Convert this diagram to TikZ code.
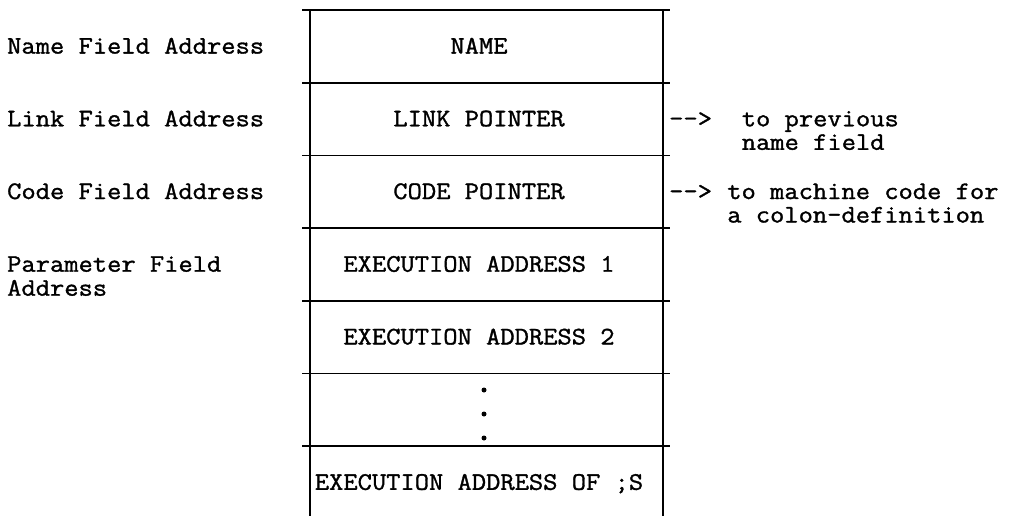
\documentclass[tikz,border=0pt]{standalone}
\usepackage{fontspec}
\setmonofont{Latin Modern Mono}[RawFeature={embolden=1.3;extend=1.1}]
\begin{document}
\begin{tikzpicture}[x=1pt,y=-1pt,
  font=\ttfamily\fontsize{25.2}{24}\selectfont,
  lbl/.style={anchor=base west, inner sep=0},
  celltext/.style={anchor=base, inner sep=0},
  rule/.style={line width=1.8pt},
  dotmark/.style={circle, fill=black, inner sep=0, minimum size=5pt}]
\useasboundingbox (0,0) rectangle (1009,516);
% box frame
\foreach \y in {10,82.7,155.4,228.1,300.8,373.5,446.2}
  \draw[rule] (302,\y) -- (670,\y);
\draw[rule] (310,10) -- (310,516);
\draw[rule] (663,10) -- (663,516);
% cell texts
\node[celltext] (c1) at (479,53.6) {NAME};
\node[celltext] (c2) at (479,126.3) {LINK POINTER};
\node[celltext] (c3) at (479,199) {CODE POINTER};
\node[celltext] (c4) at (479,271.7) {EXECUTION ADDRESS 1};
\node[celltext] (c5) at (479,344.4) {EXECUTION ADDRESS 2};
\node[dotmark] (d1) at (484,390) {};
\node[dotmark] (d2) at (484,414) {};
\node[dotmark] (d3) at (484,438) {};
\node[celltext] (c7) at (479,489.8) {EXECUTION ADDRESS OF ;S};
% left labels
\node[lbl] (l1) at (7,53.6) {Name Field Address};
\node[lbl] (l2) at (7,126.3) {Link Field Address};
\node[lbl] (l3) at (7,199) {Code Field Address};
\node[lbl] (l4a) at (7,271.7) {Parameter Field};
\node[lbl] (l4b) at (7,295.7) {Address};
% right notes
\node[lbl] (a1) at (669,126.3) {-{}->};
\node[lbl] (r1a) at (741.6,126.3) {to previous};
\node[lbl] (r1b) at (741.6,149.8) {name field};
\node[lbl] (a2) at (669,199) {-{}->};
\node[lbl] (r2a) at (727.1,199) {to machine code for};
\node[lbl] (r2b) at (727.1,222.5) {a colon-definition};
\end{tikzpicture}
\end{document}
